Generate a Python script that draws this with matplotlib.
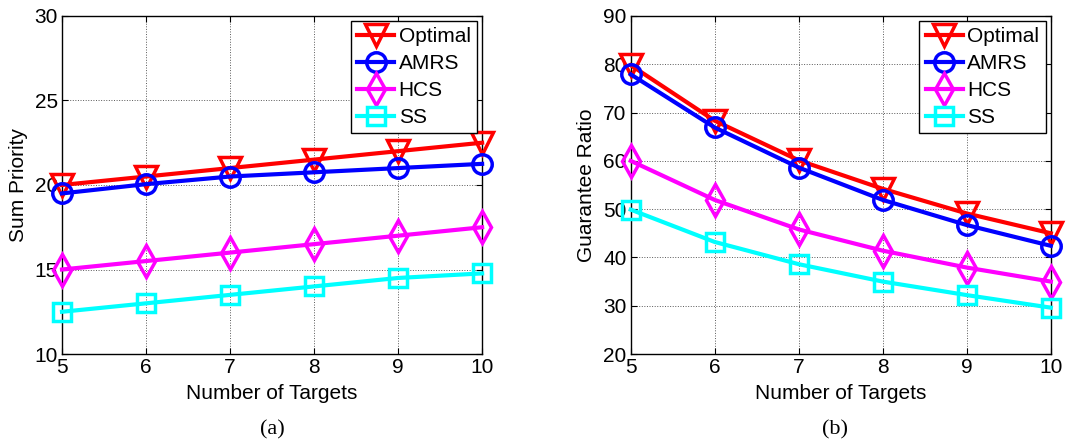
import matplotlib
matplotlib.use("Agg")
from matplotlib import pyplot as plt

targets = [5, 6, 7, 8, 9, 10]

# (a) Sum Priority
sp_optimal = [20.0, 20.5, 21.0, 21.5, 22.0, 22.5]
sp_amrs = [19.5, 20.05, 20.5, 20.75, 21.0, 21.25]
sp_hcs = [15.0, 15.5, 16.0, 16.5, 17.0, 17.5]
sp_ss = [12.5, 13.0, 13.5, 14.0, 14.5, 14.77]

# (b) Guarantee Ratio
gr_optimal = [79.8, 68.3, 60.1, 54.2, 49.1, 45.0]
gr_amrs = [77.9, 66.9, 58.6, 51.9, 46.7, 42.4]
gr_hcs = [60.0, 51.9, 45.8, 41.4, 37.9, 35.0]
gr_ss = [49.9, 43.2, 38.6, 35.0, 32.2, 29.6]

names = ["Optimal", "AMRS", "HCS", "SS"]
colors = ["#ff0000", "#0000ff", "#ff00ff", "#00ffff"]
markers = ["v", "o", "d", "s"]
msizes = [16, 14, 16, 13]

plt.rcParams['font.family'] = ['Liberation Sans', 'DejaVu Sans']
plt.rcParams['font.size'] = 15


def draw_panel(ax, series, ylim, yticks, ylabel):
    for vals, name, c, m, ms in zip(series, names, colors, markers, msizes):
        ax.plot(targets, vals, color=c, lw=3, marker=m, markersize=ms,
                markerfacecolor='none', markeredgecolor=c, markeredgewidth=2.5,
                label=name, clip_on=False, zorder=3)
    ax.set_xlim(5, 10)
    ax.set_ylim(*ylim)
    ax.set_xticks(targets)
    ax.set_yticks(yticks)
    ax.grid(True, color='0.35', linestyle=':', linewidth=0.7)
    ax.tick_params(direction='in', top=True, right=True, length=4, pad=3,
                   labelsize=15)
    for s in ax.spines.values():
        s.set_linewidth(1.0)
    ax.set_xlabel("Number of Targets", fontsize=15, labelpad=5)
    ax.set_ylabel(ylabel, fontsize=15, labelpad=5)
    leg = ax.legend(loc='upper right', fontsize=15, fancybox=False,
                    edgecolor='black', framealpha=1, handlelength=1.8,
                    handletextpad=0.2, borderpad=0.3, labelspacing=0.38,
                    borderaxespad=0.25)
    leg.get_frame().set_linewidth(1.0)


fig = plt.figure(figsize=(10.8, 4.42), dpi=100)
ax1 = fig.add_axes([0.0574, 0.199, 0.389, 0.765])
ax2 = fig.add_axes([0.584, 0.199, 0.389, 0.765])

draw_panel(ax1, [sp_optimal, sp_amrs, sp_hcs, sp_ss], (10, 30),
           [10, 15, 20, 25, 30], "Sum Priority")
draw_panel(ax2, [gr_optimal, gr_amrs, gr_hcs, gr_ss], (20, 90),
           [20, 30, 40, 50, 60, 70, 80, 90], "Guarantee Ratio")

fig.text(0.252, 0.028, "(a)", ha='center', va='center', fontsize=16,
         family=['Liberation Serif', 'DejaVu Serif'])
fig.text(0.773, 0.028, "(b)", ha='center', va='center', fontsize=16,
         family=['Liberation Serif', 'DejaVu Serif'])

fig.savefig("out.png", dpi=100)
